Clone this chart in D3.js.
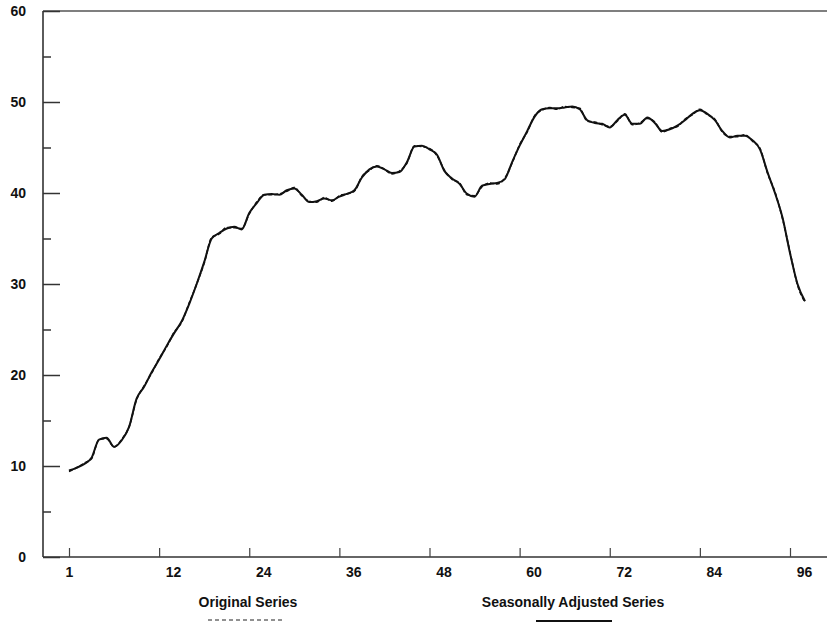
<!DOCTYPE html>
<html>
<head>
<meta charset="utf-8">
<script src="https://cdn.jsdelivr.net/npm/d3@7/dist/d3.min.js"></script>
<style>
  html, body { margin: 0; padding: 0; background: #fff; }
  svg { display: block; }
  text { font-family: "Liberation Sans", Arial, Helvetica, sans-serif; font-weight: bold; fill: #111; }
</style>
</head>
<body>
<svg id="chart" width="827" height="625"></svg>
<script>
// ---- data ----
const months = d3.range(1, 100); // 1..99

const seasonallyAdjusted = [
  9.5, 9.8, 10.2, 10.9, 12.9, 13.1, 12.1, 12.8, 14.3, 17.4,
  18.7, 20.3, 21.7, 23.2, 24.6, 25.9, 27.8, 30.0, 32.4, 35.0,
  35.6, 36.1, 36.3, 36.0, 37.8, 38.9, 39.8, 39.9, 39.8, 40.3,
  40.5, 39.8, 39.0, 39.1, 39.4, 39.2, 39.6, 39.9, 40.3, 41.7,
  42.6, 42.9, 42.6, 42.2, 42.3, 43.4, 45.1, 45.2, 44.8, 44.2,
  42.4, 41.6, 41.0, 39.9, 39.6, 40.8, 41.0, 41.1, 41.5, 43.4,
  45.2, 46.8, 48.4, 49.2, 49.3, 49.3, 49.4, 49.5, 49.2, 48.0,
  47.7, 47.6, 47.2, 48.0, 48.6, 47.6, 47.6, 48.3, 47.7, 46.8,
  47.0, 47.4, 48.0, 48.7, 49.1, 48.7, 48.0, 46.8, 46.1, 46.3,
  46.3, 45.8, 44.8, 42.3, 40.0, 37.3, 33.4, 30.0, 28.1
];

const originalSeries = [
  9.4, 9.8, 10.3, 10.8, 12.9, 13.0, 12.1, 12.9, 14.3, 17.3,
  18.8, 20.2, 21.8, 23.1, 24.7, 25.8, 27.9, 30.0, 32.3, 35.1,
  35.5, 36.2, 36.2, 36.1, 37.7, 39.0, 39.8, 39.8, 39.9, 40.2,
  40.6, 39.7, 39.1, 39.0, 39.5, 39.1, 39.7, 39.9, 40.2, 41.8,
  42.5, 43.0, 42.6, 42.1, 42.4, 43.3, 45.2, 45.1, 44.9, 44.1,
  42.5, 41.5, 41.1, 39.8, 39.7, 40.7, 41.1, 41.0, 41.6, 43.3,
  45.3, 46.7, 48.5, 49.1, 49.4, 49.2, 49.5, 49.4, 49.3, 47.9,
  47.8, 47.5, 47.3, 47.9, 48.7, 47.5, 47.7, 48.2, 47.8, 46.7,
  47.1, 47.3, 48.1, 48.6, 49.2, 48.6, 48.1, 46.7, 46.2, 46.2,
  46.4, 45.7, 44.9, 42.2, 40.1, 37.2, 33.5, 29.9, 28.0
];

const xTickValues = [1, 13, 25, 37, 49, 61, 73, 85, 97];
const xTickLabels = ["1", "12", "24", "36", "48", "60", "72", "84", "96"];
const yTickValues = d3.range(0, 61, 5);
const legendLabels = ["Original Series", "Seasonally Adjusted Series"];

// ---- layout ----
const svg = d3.select("#chart");
const frame = { left: 43, top: 11, bottom: 557, right: 827 };

const x = d3.scaleLinear().domain([1, 97]).range([69, 790]);
const y = d3.scaleLinear().domain([0, 60]).range([frame.bottom, frame.top]);

// frame lines (left axis, bottom axis, top border)
const frameG = svg.append("g").attr("stroke", "#333").attr("stroke-width", 1.6).attr("fill", "none");
frameG.append("line").attr("x1", frame.left).attr("x2", frame.left).attr("y1", y(60)).attr("y2", y(0));
frameG.append("line").attr("x1", frame.left).attr("x2", frame.right).attr("y1", y(0)).attr("y2", y(0));
frameG.append("line").attr("x1", frame.left).attr("x2", frame.right).attr("y1", y(60)).attr("y2", y(60)).attr("stroke", "#555");

// y axis
const yAxis = d3.axisLeft(y)
  .tickValues(yTickValues)
  .tickSize(-17)
  .tickPadding(17)
  .tickFormat(d => d % 10 === 0 ? String(d) : "");
const yG = svg.append("g").attr("transform", `translate(${frame.left},0)`).call(yAxis);
yG.select(".domain").remove();
yG.selectAll(".tick line")
  .attr("stroke", "#333").attr("stroke-width", 1.5)
  .attr("x2", d => d % 10 === 0 ? 17 : 8);
yG.selectAll(".tick text").style("font-size", "14px").attr("fill", "#111");

// x axis
const xAxis = d3.axisBottom(x)
  .tickValues(xTickValues)
  .tickSize(-9)
  .tickPadding(10)
  .tickFormat((d, i) => xTickLabels[i]);
const xG = svg.append("g").attr("transform", `translate(0,${frame.bottom})`).call(xAxis);
xG.select(".domain").remove();
xG.selectAll(".tick line").attr("stroke", "#444").attr("stroke-width", 1.2);
xG.selectAll(".tick text").style("font-size", "14px").attr("fill", "#111")
  .attr("dx", (d, i) => i === 0 ? 0 : 14);

// lines
const line = d3.line().x((d, i) => x(months[i])).y(d => y(d)).curve(d3.curveMonotoneX);

svg.append("path")
  .datum(originalSeries)
  .attr("fill", "none").attr("stroke", "#111").attr("stroke-width", 1.6)
  .attr("stroke-dasharray", "4,2")
  .attr("d", line);

svg.append("path")
  .datum(seasonallyAdjusted)
  .attr("fill", "none").attr("stroke", "#111").attr("stroke-width", 2)
  .attr("stroke-linejoin", "round")
  .attr("d", line);

// legend
const legendX = [248, 573];
const legendG = svg.append("g");
legendLabels.forEach((lab, i) => {
  legendG.append("text")
    .attr("x", legendX[i]).attr("y", 607)
    .attr("text-anchor", "middle")
    .style("font-size", "14px")
    .text(lab);
});
legendG.append("line")
  .attr("x1", 208).attr("x2", 282).attr("y1", 620).attr("y2", 620)
  .attr("stroke", "#222").attr("stroke-width", 1.2).attr("stroke-dasharray", "4,3");
legendG.append("line")
  .attr("x1", 536).attr("x2", 612).attr("y1", 621).attr("y2", 621)
  .attr("stroke", "#111").attr("stroke-width", 1.8);
</script>
</body>
</html>
